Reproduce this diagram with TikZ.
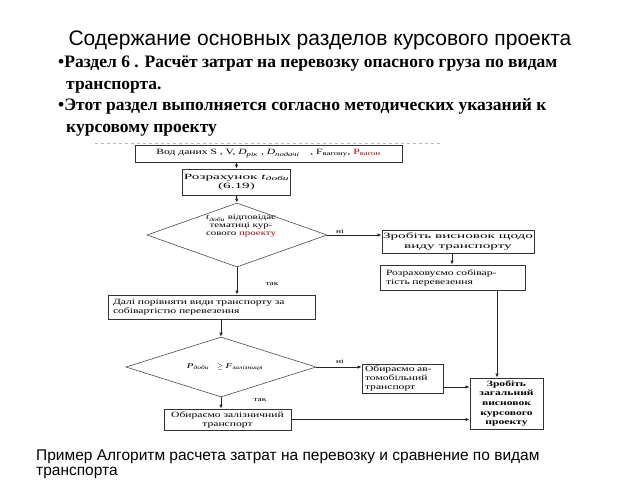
\documentclass[tikz,border=0pt]{standalone}
\usepackage{fontspec}
\setmainfont{Liberation Serif}
\newfontfamily\arialf{Liberation Sans}
\newfontfamily\flowf[FakeStretch=1.45]{Liberation Serif}
\newfontfamily\flowwide[FakeStretch=1.9]{Liberation Serif}
\usetikzlibrary{shapes.geometric,arrows.meta}
\tikzset{
  fbox/.style={draw=black!80,line width=0.9pt,fill=white,font=\flowf\fontsize{8}{9}\selectfont,align=center,inner sep=1pt},
  widetext/.style={font=\flowwide\fontsize{8}{9.5}\selectfont},
  fdia/.style={diamond,draw=black!70,line width=0.6pt,inner sep=0pt},
  ftxt/.style={font=\flowf\fontsize{7.5}{8}\selectfont,align=center,inner sep=0pt},
  conn/.style={draw=black!85,line width=0.9pt,->,>={Latex[length=4pt,width=3.5pt]}},
  lbl/.style={font=\flowf\fontsize{6.5}{7}\selectfont,inner sep=0.5pt},
  bul/.style={font=\fontsize{17.5}{19}\selectfont\bfseries,anchor=base west,inner sep=0pt},
  captext/.style={font=\arialf\fontsize{15.5}{17}\selectfont,anchor=base west,inner sep=0pt}
}
\begin{document}
\begin{tikzpicture}[x=1pt,y=-1pt]
\useasboundingbox (0,0) rectangle (640,480);
\clip (0,0) rectangle (640,480);
% title and text
\node[font=\arialf\fontsize{21}{23}\selectfont,inner sep=0pt] (title) at (320,40) {Содержание основных разделов курсового проекта};
\node[bul] (l1) at (58,67) {•Раздел 6 . Расчёт затрат на перевозку опасного груза по видам};
\node[bul] (l2) at (66,89) {транспорта.};
\node[bul] (l3) at (58,110) {•Этот раздел выполняется согласно методических указаний к};
\node[bul] (l4) at (66,132) {курсовому проекту};
\node[captext] (c1) at (36,460) {Пример Алгоритм расчета затрат на перевозку и сравнение по видам};
\node[captext] (c2) at (36,475) {транспорта};
% faint top edge of the scanned figure
\coordinate (fl) at (95,143);
\coordinate (fr) at (440,143);
\draw[gray!55,dashed,line width=0.8pt] (fl) -- (fr);
% flowchart
\node[fbox,minimum width=267,minimum height=17] (b1) at (268.5,153.5)
  {Вод даних S , V, \textit{D}\textsubscript{\textit{рік}} , \textit{D}\textsubscript{\textit{подачі}} \quad , F\textsubscript{вагону}, \textcolor{red!70!black}{P\textsubscript{вагон}}};
\node[fbox,widetext,minimum width=107,minimum height=26] (b2) at (236.5,182)
  {Розрахунок \textit{t}\textsubscript{\textit{доби}}\\(6.19)};
\node[fdia,minimum width=180,minimum height=64] (d1) at (237,235) {};
\node[ftxt] (d1t) at (241,226)
  {\textit{t}\textsubscript{\textit{доби}} відповідає\\тематиці кур-\\сового \textcolor{red!70!black}{проекту}};
\node[fbox,widetext,minimum width=152,minimum height=23] (b3) at (458,241.5)
  {Зробіть висновок щодо\\виду транспорту};
\node[fbox,minimum width=145,minimum height=25,align=left,text width=133] (b4) at (452.5,277.5)
  {Розраховуємо собівар-\\тість перевезення};
\node[fbox,minimum width=207,minimum height=24,align=left,text width=197] (b5) at (211.5,307)
  {Далі порівняти види транспорту за\\собівартістю перевезення};
\node[fdia,minimum width=190,minimum height=60] (d2) at (221,367) {};
\node[ftxt] (d2t) at (225,367)
  {\textit{P}\textsubscript{\textit{доби}}\quad $\geq$ \textit{F}\textsubscript{\textit{залізниця}}};
\node[fbox,minimum width=81,minimum height=29,align=left,text width=75,line width=0.6pt,font=\flowf\fontsize{8}{8.8}\selectfont] (b6) at (402.5,378.5)
  {Обираємо ав-\\томобільний\\транспорт};
\node[fbox,minimum width=127,minimum height=21] (b7) at (227.5,419.5)
  {Обираємо залізничний\\транспорт};
\node[fbox,minimum width=73,minimum height=51,font=\flowf\fontsize{8}{9.6}\selectfont\bfseries] (b8) at (506.5,403.5)
  {Зробіть\\загальний\\висновок\\курсового\\проекту};
% connectors
\draw[conn] (b2.north |- b1.south) -- (b2.north);
\draw[conn] (b2.south) -- (d1.north);
\draw[conn] (d1.east) -- (d1.east -| b3.west);
\draw[conn] ([xshift=-6pt]b3.south) -- ([xshift=-6pt]b3.south |- b4.north);
\draw[conn] ([xshift=-9.5pt]b8.north |- b4.south) -- ([xshift=-9.5pt]b8.north);
\draw[conn] (d1.south) -- (d1.south |- b5.north);
\draw[conn] (d2.north |- b5.south) -- (d2.north);
\draw[conn] (d2.east) -- (d2.east -| b6.west);
\draw[conn] ([yshift=-8.5pt]b6.east) -- ([yshift=-8.5pt]b6.east -| b8.west);
\draw[conn] (d2.south) -- (d2.south |- b7.north);
\draw[conn] (b7.east) -- (b7.east -| b8.west);
% labels
\node[lbl] (n1) at (340,231) {ні};
\node[lbl] (t1) at (272,284) {так};
\node[lbl] (n2) at (340,361) {ні};
\node[lbl] (t2) at (260,400) {так};
\end{tikzpicture}
\end{document}
